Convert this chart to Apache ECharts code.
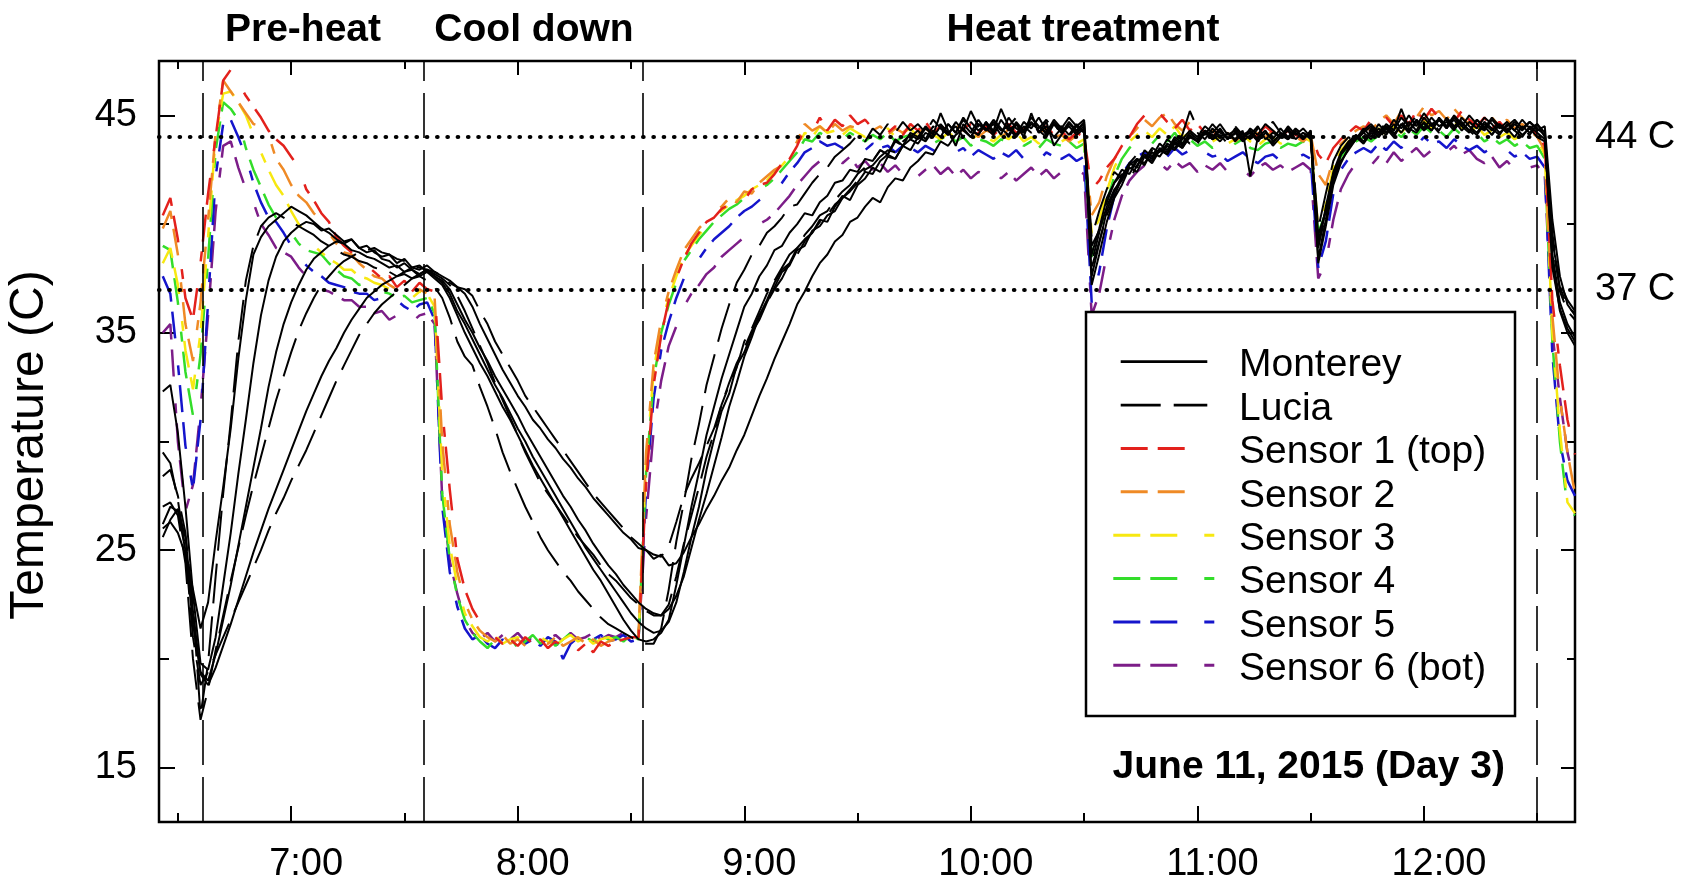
<!DOCTYPE html>
<html>
<head>
<meta charset="utf-8">
<title>Body and sensor temperatures, June 11, 2015</title>
<script src="https://cdn.jsdelivr.net/npm/echarts@6/dist/echarts.min.js"></script>
<style>
  html, body { margin: 0; padding: 0; background: #fff; }
  #chart { width: 1689px; height: 884px; }
</style>
</head>
<body>
<div id="chart"></div>
<script>
// Loggers sampled every 2 minutes; first reading at 6:26 (minutes after midnight).
const SAMPLE_START = 386;
const SAMPLE_STEP = 2;

// Phase boundaries (minutes after midnight) and reference temperatures.
const phaseBounds = [396.7, 455.1, 513.2, 750];
const phaseNames = ['Pre-heat', 'Cool down', 'Heat treatment'];
const thresholds = [44, 37];

// Axis ticks.
const hourTicks = [420, 480, 540, 600, 660, 720];
const halfHourTicks = [390, 450, 510, 570, 630, 690, 750];
const tempMajorTicks = [15, 25, 35, 45];
const tempMinorTicks = [20, 30, 40];

const legendNames = ['Monterey', 'Lucia', 'Sensor 1 (top)', 'Sensor 2', 'Sensor 3', 'Sensor 4', 'Sensor 5', 'Sensor 6 (bot)'];
const dateNote = 'June 11, 2015 (Day 3)';

// ---- Chamber sensors (deg C), one row = 20 minutes ----
const sensor1 = [
  40.4, 41.2, 39.3, 36.6, 35.6, 38.2, 41.4, 44.0, 46.6, 47.1, // 6:26
  46.5, 45.9, 45.4, 44.9, 44.3, 43.9, 43.6, 43.1, 42.6, 41.6, // 6:46
  41.1, 40.5, 40.1, 39.4, 39.0, 38.7, 38.3, 38.1, 37.8, 37.5, // 7:06
  37.6, 37.1, 37.4, 36.9, 37.3, 37.0, 36.9, 31.5, 27.8, 24.6, // 7:26
  23.2, 22.3, 21.7, 21.3, 21.0, 20.7, 20.9, 20.6, 21.0, 20.7, // 7:46
  20.9, 20.5, 20.8, 20.6, 20.9, 20.4, 20.7, 20.3, 20.8, 20.6, // 8:06
  20.8, 20.9, 21.0, 21.0, 28.0, 32.6, 34.9, 36.5, 37.5, 38.4, // 8:26
  39.1, 39.6, 40.1, 40.3, 40.7, 40.9, 41.2, 41.1, 41.6, 41.8, // 8:46
  41.9, 42.3, 42.8, 43.0, 43.6, 44.4, 44.2, 44.9, 44.3, 44.8, // 9:06
  44.5, 45.0, 44.6, 44.8, 44.4, 44.6, 44.2, 44.5, 44.1, 44.6, // 9:26
  44.3, 44.7, 44.2, 44.5, 44.3, 44.8, 44.4, 44.6, 44.2, 44.5, // 9:46
  44.1, 44.4, 44.6, 44.2, 44.4, 44.0, 44.3, 44.5, 44.1, 44.3, // 10:06
  43.9, 44.2, 44.0, 41.6, 42.0, 42.6, 43.0, 43.6, 44.0, 44.6, // 10:26
  45.0, 44.6, 45.1, 44.7, 44.4, 44.8, 44.3, 44.6, 44.2, 44.0, // 10:46
  44.4, 44.1, 43.9, 44.2, 43.8, 44.1, 44.5, 44.2, 44.0, 44.3, // 11:06
  44.1, 43.9, 44.2, 43.2, 42.8, 43.5, 43.9, 44.2, 44.5, 44.3, // 11:26
  44.8, 44.4, 44.9, 44.5, 45.0, 44.6, 45.2, 44.8, 45.3, 44.9, // 11:46
  45.1, 44.7, 45.2, 44.8, 44.5, 44.9, 44.4, 44.7, 44.3, 44.6, // 12:06
  44.2, 44.5, 44.1, 43.6, 36.5, 33.5, 31.0, 29.4              // 12:26
];
const sensor2 = [
  39.8, 40.6, 38.6, 35.4, 33.7, 36.4, 40.2, 44.2, 46.6, 46.1,
  45.6, 45.1, 44.6, 44.5, 44.1, 43.0, 42.5, 41.8, 41.3, 41.0,
  40.5, 40.1, 39.6, 39.1, 38.7, 38.6, 38.2, 37.9, 37.6, 37.5,
  37.2, 37.0, 37.1, 36.8, 37.0, 36.8, 36.6, 30.0, 26.2, 24.0,
  22.6, 21.8, 21.3, 21.0, 20.8, 21.1, 20.7, 20.9, 20.6, 21.0,
  20.8, 20.7, 21.0, 20.6, 20.8, 21.0, 20.7, 20.9, 20.6, 20.8,
  20.9, 21.0, 20.9, 21.2, 29.5, 33.6, 35.6, 36.9, 37.9, 38.8,
  39.3, 39.8, 40.2, 40.6, 40.8, 41.2, 41.0, 41.5, 41.4, 41.9,
  42.2, 42.5, 42.7, 43.2, 43.8, 44.6, 44.3, 44.5, 44.2, 44.6,
  44.3, 44.5, 44.4, 44.7, 44.3, 44.5, 44.1, 44.4, 44.2, 44.5,
  44.2, 44.4, 44.1, 44.5, 44.2, 44.6, 44.3, 44.4, 44.0, 44.3,
  44.2, 43.9, 44.4, 44.1, 44.3, 43.9, 44.2, 44.4, 44.0, 44.1,
  43.8, 44.1, 43.9, 40.4, 41.0, 42.2, 43.0, 43.5, 44.0, 44.4,
  44.8, 44.5, 44.9, 45.1, 44.6, 44.3, 44.7, 44.4, 44.1, 44.3,
  44.0, 44.2, 43.8, 44.1, 43.9, 44.2, 44.0, 44.3, 43.9, 44.1,
  44.0, 43.8, 44.1, 42.3, 41.8, 43.0, 43.7, 44.0, 44.3, 44.5,
  44.3, 44.7, 45.0, 44.6, 45.2, 44.7, 44.9, 45.4, 45.0, 45.2,
  44.8, 45.3, 44.9, 44.6, 45.0, 44.6, 44.9, 44.5, 44.8, 44.4,
  44.6, 44.3, 44.0, 43.4, 35.8, 32.0, 29.5, 27.6
];
const sensor3 = [
  38.2, 38.9, 37.2, 34.2, 32.4, 35.0, 39.4, 44.0, 46.0, 46.1,
  45.6, 45.0, 44.1, 43.3, 42.5, 41.8, 41.3, 40.6, 40.0, 39.5,
  39.0, 38.7, 38.4, 38.2, 37.9, 37.9, 37.6, 37.5, 37.3, 37.2,
  37.0, 36.9, 36.8, 36.6, 36.9, 36.8, 36.2, 28.5, 25.2, 23.4,
  22.1, 21.5, 21.0, 20.8, 21.1, 20.7, 20.9, 21.0, 20.7, 20.9,
  21.0, 20.8, 20.6, 20.9, 21.1, 20.8, 21.0, 20.7, 20.9, 21.0,
  20.8, 21.0, 21.1, 21.0, 29.0, 33.2, 35.4, 36.6, 37.6, 38.5,
  39.0, 39.5, 39.9, 40.4, 40.6, 40.9, 41.1, 41.3, 41.6, 41.8,
  42.0, 42.4, 42.7, 43.1, 43.5, 44.2, 44.0, 44.5, 44.2, 44.3,
  44.1, 44.4, 44.2, 44.0, 44.3, 44.1, 44.4, 44.0, 44.2, 44.4,
  44.0, 44.3, 44.1, 43.9, 44.2, 44.0, 44.3, 43.9, 44.1, 44.0,
  43.8, 44.1, 43.9, 44.2, 43.8, 44.0, 43.7, 44.1, 43.9, 43.8,
  44.0, 43.7, 43.9, 39.6, 40.2, 41.5, 42.6, 43.3, 43.8, 44.1,
  44.3, 44.0, 44.4, 44.1, 44.5, 44.0, 44.2, 43.9, 44.1, 43.8,
  44.0, 43.7, 43.9, 44.1, 43.8, 43.6, 43.9, 44.0, 43.7, 43.9,
  43.8, 44.0, 43.8, 39.8, 40.9, 42.6, 43.4, 43.8, 44.0, 44.2,
  44.0, 44.4, 44.1, 44.5, 44.2, 44.6, 44.3, 44.8, 44.4, 44.6,
  44.3, 44.7, 44.4, 44.2, 44.5, 44.1, 44.3, 44.0, 44.2, 43.9,
  44.1, 43.8, 43.9, 43.2, 35.0, 30.5, 27.2, 26.7
];
const sensor4 = [
  39.0, 38.8, 36.4, 33.2, 31.2, 34.0, 38.4, 43.4, 45.6, 45.3,
  44.8, 43.5, 42.5, 41.7, 40.9, 40.3, 40.0, 39.6, 39.1, 38.8,
  38.7, 38.6, 38.2, 37.9, 37.6, 37.5, 37.2, 37.3, 37.0, 36.9,
  36.8, 36.6, 36.7, 36.4, 36.5, 36.6, 35.9, 27.6, 24.6, 22.9,
  21.8, 21.2, 20.8, 20.5, 20.9, 20.6, 21.0, 20.5, 20.8, 21.1,
  20.7, 21.0, 20.6, 20.9, 21.2, 20.7, 21.0, 20.8, 21.1, 20.9,
  21.0, 20.8, 21.1, 20.9, 28.6, 32.8, 35.0, 36.3, 37.3, 38.3,
  38.8, 39.3, 39.7, 40.1, 40.4, 40.7, 40.9, 41.2, 41.4, 41.6,
  41.8, 42.1, 42.5, 42.9, 43.3, 43.9, 43.8, 44.2, 44.0, 44.1,
  43.9, 44.2, 44.0, 43.8, 44.1, 43.9, 44.2, 43.8, 44.0, 44.1,
  43.8, 44.0, 43.7, 43.9, 44.1, 43.8, 44.0, 43.6, 43.9, 43.8,
  43.6, 43.9, 43.7, 44.0, 43.6, 43.8, 43.5, 43.9, 43.7, 43.6,
  43.8, 43.5, 43.7, 38.5, 39.5, 41.0, 42.2, 43.0, 43.5, 43.8,
  44.0, 43.7, 44.1, 43.8, 44.2, 43.7, 43.9, 43.6, 43.8, 43.5,
  43.7, 43.4, 43.7, 43.9, 43.5, 43.4, 43.7, 43.8, 43.5, 43.7,
  43.6, 43.8, 43.6, 39.6, 40.5, 42.2, 43.1, 43.5, 43.8, 44.0,
  43.8, 44.1, 43.9, 44.3, 44.0, 44.4, 44.1, 44.5, 44.2, 44.3,
  44.0, 44.4, 44.1, 43.9, 44.2, 43.8, 44.0, 43.7, 43.9, 43.6,
  43.8, 43.5, 43.6, 43.0, 34.6, 30.0, 26.9, 26.6
];
const sensor5 = [
  37.6, 36.8, 33.6, 29.8, 27.8, 31.0, 36.4, 42.2, 44.6, 44.8,
  44.0, 43.1, 41.9, 41.0, 40.3, 40.1, 39.6, 39.0, 38.5, 38.1,
  37.8, 37.6, 37.3, 37.2, 37.1, 36.9, 36.8, 36.8, 36.5, 36.6,
  36.3, 36.5, 36.2, 36.0, 36.3, 36.4, 35.6, 27.0, 24.0, 22.4,
  21.4, 20.9, 21.1, 20.7, 20.5, 20.9, 20.6, 21.0, 20.7, 20.9,
  20.6, 21.0, 20.8, 20.0, 20.7, 21.0, 20.6, 20.9, 21.1, 20.8,
  20.9, 21.1, 20.8, 20.9, 27.8, 32.0, 34.2, 35.5, 36.6, 37.5,
  37.9, 38.4, 38.9, 39.3, 39.6, 39.9, 40.3, 40.6, 40.8, 41.1,
  41.3, 41.6, 41.9, 42.4, 42.8, 43.3, 43.5, 43.8, 43.6, 43.7,
  43.5, 43.8, 43.6, 43.4, 43.7, 43.5, 43.6, 43.3, 43.6, 43.5,
  43.3, 43.6, 43.4, 43.2, 43.5, 43.3, 43.5, 43.1, 43.4, 43.2,
  43.0, 43.3, 43.1, 43.4, 43.0, 43.2, 42.9, 43.3, 43.1, 43.0,
  43.2, 42.9, 43.1, 36.4, 37.8, 39.8, 41.3, 42.3, 42.8, 43.1,
  43.3, 43.0, 43.4, 43.1, 43.5, 43.2, 43.4, 43.0, 43.3, 43.1,
  43.2, 42.9, 43.1, 43.3, 43.0, 42.8, 43.1, 43.2, 42.9, 43.1,
  43.0, 43.2, 43.0, 38.0, 39.2, 41.4, 42.5, 43.0, 43.3, 43.5,
  43.3, 43.7, 43.4, 43.8, 43.5, 43.9, 43.6, 44.0, 43.7, 43.8,
  43.5, 43.9, 43.6, 43.4, 43.6, 43.3, 43.5, 43.2, 43.4, 43.1,
  43.3, 43.0, 43.1, 42.6, 34.0, 30.0, 28.2, 27.5
];
const sensor6 = [
  35.0, 35.4, 30.0, 26.8, 28.0, 31.5, 35.8, 40.6, 43.6, 43.8,
  42.6, 41.6, 41.0, 40.0, 39.5, 38.9, 38.7, 38.5, 38.0, 37.6,
  37.3, 37.0, 36.9, 36.7, 36.5, 36.5, 36.2, 36.2, 35.9, 36.0,
  35.6, 35.8, 35.4, 35.5, 35.8, 35.9, 35.4, 27.4, 24.5, 23.0,
  21.8, 21.2, 20.9, 21.2, 20.8, 21.1, 20.9, 21.2, 20.8, 21.0,
  21.2, 20.9, 21.1, 20.8, 21.2, 20.9, 21.0, 21.2, 20.9, 21.1,
  21.0, 21.2, 20.9, 21.0, 26.5, 30.5, 32.8, 34.4, 35.3, 36.2,
  36.8, 37.2, 37.7, 38.0, 38.5, 38.8, 39.1, 39.4, 39.7, 40.0,
  40.2, 40.5, 40.9, 41.3, 41.8, 42.2, 42.6, 42.9, 42.7, 43.0,
  42.8, 43.1, 42.6, 42.9, 42.5, 42.8, 42.4, 42.7, 42.3, 42.6,
  42.2, 42.5, 42.7, 42.3, 42.6, 42.2, 42.5, 42.1, 42.4, 42.2,
  42.5, 42.1, 42.4, 42.0, 42.3, 42.6, 42.2, 42.5, 42.1, 42.4,
  42.2, 42.5, 42.3, 35.8, 36.8, 38.6, 40.2, 41.3, 42.0, 42.4,
  42.7, 42.4, 42.8, 42.5, 42.9, 42.6, 42.8, 42.4, 42.7, 42.5,
  42.8, 42.4, 42.7, 42.5, 42.2, 42.6, 42.8, 42.5, 42.7, 42.4,
  42.6, 42.8, 42.5, 37.5, 38.2, 40.2, 41.6, 42.3, 42.8, 43.0,
  42.7, 43.1, 42.8, 43.3, 42.9, 43.2, 43.5, 43.1, 43.4, 43.0,
  43.3, 43.6, 43.2, 43.4, 43.0, 42.8, 43.1, 42.6, 42.9, 42.5,
  42.8, 42.6, 42.7, 42.2, 35.0, 32.0, 29.5, 28.0
];

// ---- Body temperatures: Monterey (solid) ----
const monterey1 = [
  26.0, 26.3, 25.8, 24.8, 23.2, 21.4, 22.6, 25.4, 27.9, 30.6,
  33.8, 36.5, 38.6, 39.4, 39.9, 40.2, 40.5, 40.8, 40.6, 40.4,
  40.1, 39.8, 39.6, 39.3, 39.1, 38.8, 38.7, 38.5, 38.4, 38.2,
  38.0, 38.1, 37.8, 37.9, 37.6, 37.8, 37.5, 37.2, 36.6, 35.8,
  35.0, 34.3, 33.6, 33.0, 32.3, 31.6, 31.0, 30.3, 29.6, 28.9,
  28.3, 27.7, 27.1, 26.5, 25.9, 25.3, 24.7, 24.1, 23.6, 23.0,
  22.4, 21.8, 21.3, 20.9, 20.8, 20.9, 21.2, 21.8, 23.4, 25.2,
  27.0, 28.6, 30.3, 31.6, 32.9, 34.0, 35.1, 36.2, 36.8, 37.6,
  38.1, 38.8, 39.0, 39.6, 40.0, 40.5, 40.4, 41.0, 41.3, 41.9,
  42.0, 42.5, 42.4, 43.0, 42.9, 43.4, 43.2, 43.9, 43.6, 44.2,
  44.0, 44.5, 44.1, 45.1, 44.3, 43.6, 44.6, 44.2, 44.8, 44.3,
  44.6, 44.1, 44.9, 44.4, 44.2, 44.7, 44.3, 44.0, 44.6, 44.2,
  44.5, 44.1, 44.4, 38.6, 39.8, 41.2, 41.9, 42.5, 42.3, 42.9,
  43.1, 42.8, 43.4, 43.2, 43.7, 43.5, 44.0, 43.8, 44.3, 44.0,
  44.4, 43.9, 44.2, 43.8, 44.1, 44.5, 43.9, 44.2, 44.0, 44.4,
  43.9, 44.2, 44.0, 38.9, 40.8, 42.4, 43.3, 43.8, 44.1, 43.8,
  44.3, 44.0, 44.5, 44.1, 44.6, 44.2, 44.8, 44.4, 44.9, 44.5,
  44.7, 44.3, 44.9, 44.5, 44.2, 44.7, 44.4, 44.1, 44.6, 44.3,
  44.0, 44.5, 44.2, 43.9, 38.6, 36.4, 35.4, 34.8
];
const monterey2 = [
  32.3, 32.6, 30.4, 27.0, 23.0, 19.8, 19.5, 21.0, 23.4, 25.8,
  28.5, 31.0, 33.6, 35.8, 37.4, 38.5, 39.2, 39.6, 39.9, 40.1,
  40.0, 39.7, 39.8, 39.5, 39.2, 39.3, 38.9, 38.7, 38.8, 38.4,
  38.3, 38.0, 38.2, 37.9, 37.7, 37.9, 37.6, 37.3, 36.8, 36.0,
  35.4, 34.7, 34.0, 33.3, 32.6, 32.0, 31.3, 30.6, 30.0, 29.3,
  28.7, 28.1, 27.5, 26.9, 26.3, 25.7, 25.1, 24.6, 24.1, 23.6,
  23.1, 22.6, 22.1, 21.7, 21.4, 21.2, 21.3, 21.7, 22.6, 24.0,
  25.6, 27.0, 28.7, 30.1, 31.4, 32.2, 33.5, 34.1, 35.0, 35.6,
  36.4, 37.1, 37.8, 38.1, 38.8, 39.0, 39.7, 39.9, 40.4, 40.6,
  41.2, 41.5, 41.9, 42.4, 42.3, 42.9, 43.2, 43.0, 43.6, 43.9,
  43.7, 44.2, 44.0, 44.5, 44.1, 44.7, 44.3, 44.0, 44.6, 44.4,
  44.1, 44.8, 44.3, 44.6, 44.0, 45.1, 44.2, 44.7, 43.6, 44.1,
  44.6, 44.3, 44.7, 37.6, 39.1, 40.6, 41.5, 42.2, 42.8, 42.6,
  43.4, 43.1, 43.7, 43.4, 44.0, 43.7, 44.2, 43.9, 44.3, 44.1,
  43.8, 44.2, 43.9, 44.3, 42.2, 44.0, 44.3, 43.8, 44.1, 43.9,
  44.3, 44.0, 44.2, 38.4, 40.2, 42.1, 43.2, 43.6, 44.0, 44.2,
  43.9, 44.4, 44.1, 44.6, 44.2, 44.7, 44.3, 44.9, 44.5, 44.8,
  44.5, 45.0, 44.6, 44.3, 44.8, 44.4, 44.9, 44.5, 44.2, 44.6,
  44.3, 44.7, 44.4, 44.1, 38.0, 36.1, 35.2, 34.6
];
const monterey3 = [
  26.2, 27.0, 26.8, 25.0, 21.6, 19.4, 19.0, 20.2, 21.8, 23.4,
  25.2, 27.0, 28.8, 30.6, 32.5, 34.1, 35.4, 36.4, 37.2, 37.9,
  38.4, 38.7, 39.0, 39.2, 39.1, 39.3, 38.9, 39.0, 38.7, 38.5,
  38.6, 38.2, 38.4, 38.0, 38.1, 37.8, 37.6, 37.4, 37.0, 36.3,
  35.6, 35.0, 34.3, 33.7, 33.0, 32.4, 31.8, 31.2, 30.5, 29.9,
  29.3, 28.7, 28.1, 27.5, 27.0, 26.4, 25.9, 25.3, 24.8, 24.3,
  23.9, 23.4, 23.0, 22.6, 22.3, 22.1, 22.0, 22.3, 22.9, 23.8,
  25.1, 26.4, 27.6, 28.9, 30.2, 31.6, 32.7, 33.9, 34.8, 35.8,
  36.5, 37.3, 37.9, 38.2, 38.9, 39.3, 39.6, 40.2, 40.1, 40.8,
  41.3, 41.1, 41.8, 42.1, 42.6, 42.4, 43.1, 43.0, 43.6, 43.4,
  44.0, 43.8, 44.3, 44.0, 44.6, 44.2, 44.9, 44.4, 44.1, 44.7,
  44.3, 45.3, 44.5, 44.1, 44.7, 44.4, 44.9, 44.3, 44.6, 44.2,
  44.7, 44.3, 44.6, 37.2, 38.6, 40.1, 41.2, 41.8, 42.6, 42.4,
  43.1, 42.9, 43.5, 43.2, 43.9, 43.6, 44.1, 43.8, 44.3, 43.9,
  44.3, 43.9, 44.4, 44.0, 44.2, 43.8, 44.2, 43.9, 44.4, 44.0,
  44.2, 43.9, 44.3, 38.2, 39.9, 41.8, 42.8, 43.5, 43.9, 44.4,
  44.0, 44.6, 44.2, 44.8, 44.4, 45.0, 44.5, 45.1, 44.6, 44.8,
  44.4, 44.9, 44.5, 45.0, 44.6, 44.3, 44.8, 44.4, 44.7, 44.3,
  44.8, 44.4, 44.6, 44.0, 38.4, 36.0, 35.0, 34.4
];
const monterey4 = [
  25.6, 26.4, 26.9, 25.6, 22.2, 19.3, 18.8, 19.6, 20.6, 21.6,
  22.7, 23.8, 24.9, 25.9, 26.9, 27.8, 28.7, 29.6, 30.5, 31.4,
  32.2, 33.0, 33.7, 34.3, 35.0, 35.6, 36.1, 36.6, 36.9, 37.2,
  37.4, 37.6, 37.8, 38.0, 37.9, 38.1, 37.8, 37.6, 37.4, 37.1,
  36.8, 36.2, 35.4, 34.7, 34.0, 33.3, 32.7, 32.1, 31.6, 31.0,
  30.6, 30.1, 29.7, 29.2, 28.8, 28.3, 27.9, 27.4, 27.0, 26.6,
  26.2, 25.8, 25.5, 25.1, 25.0, 24.6, 24.8, 24.3, 24.4, 24.9,
  25.6, 26.2, 26.9, 27.5, 28.2, 28.8, 29.6, 30.3, 31.2, 32.1,
  32.9, 33.8, 34.6, 35.4, 36.3, 36.9, 37.6, 38.2, 38.6, 39.2,
  39.5, 40.1, 40.3, 40.8, 41.2, 41.0, 41.7, 42.1, 42.0, 42.6,
  42.9, 43.3, 43.2, 43.8, 43.6, 44.1, 44.4, 44.0, 44.6, 44.3,
  44.8, 44.4, 44.1, 44.7, 44.3, 44.9, 44.5, 44.2, 44.8, 44.4,
  44.9, 44.5, 44.8, 39.0, 39.7, 40.8, 41.6, 42.0, 42.7, 43.0,
  42.8, 43.3, 43.1, 43.6, 43.4, 43.9, 44.3, 44.0, 44.5, 44.2,
  44.6, 44.1, 44.3, 43.9, 44.4, 44.1, 44.6, 44.3, 44.0, 44.5,
  44.1, 44.4, 44.0, 39.5, 40.6, 42.0, 42.9, 43.4, 43.9, 44.2,
  44.5, 44.1, 44.6, 44.3, 45.3, 44.4, 44.2, 44.7, 44.3, 44.9,
  44.5, 44.8, 44.3, 44.7, 44.4, 44.9, 44.6, 44.2, 44.5, 44.8,
  44.4, 44.7, 44.3, 44.5, 40.2, 37.6, 36.3, 35.8
];

// ---- Body temperatures: Lucia (dashed) ----
const lucia1 = [
  28.4, 28.7, 27.5, 25.8, 22.4, 17.4, 19.8, 23.8, 27.6, 30.9,
  34.6, 37.4, 39.0, 39.9, 40.3, 40.5, 40.3, 40.1, 39.9, 39.7,
  39.5, 39.2, 39.0, 38.8, 38.6, 38.5, 38.3, 38.2, 38.0, 37.9,
  37.8, 37.6, 37.7, 37.5, 37.6, 37.4, 37.1, 36.6, 35.7, 34.6,
  33.9, 33.5, 32.5, 31.6, 30.6, 29.5, 28.6, 27.8, 27.0, 26.3,
  25.6, 25.0, 24.5, 24.0, 23.6, 23.1, 22.7, 22.3, 21.9, 21.6,
  21.4, 21.2, 21.0, 20.8, 20.7, 20.7, 21.4, 23.2, 25.4, 27.2,
  29.2, 30.8, 32.6, 33.9, 35.2, 36.3, 37.3, 37.9, 38.6, 39.0,
  39.6, 39.9, 40.3, 40.8, 40.9, 41.4, 41.9, 42.3, 42.6, 43.1,
  43.4, 43.7, 44.1, 43.8, 44.4, 44.1, 44.6, 44.2, 44.7, 44.3,
  44.6, 44.2, 44.8, 44.4, 44.1, 44.7, 44.3, 45.2, 44.5, 44.2,
  44.7, 44.3, 44.5, 44.9, 44.2, 44.6, 44.4, 44.8, 44.3, 44.5,
  44.1, 44.6, 44.2, 39.4, 40.6, 41.6, 42.4, 42.1, 42.8, 43.2,
  43.0, 43.5, 43.3, 43.9, 43.6, 44.1, 45.2, 44.4, 44.1, 44.6,
  44.2, 44.0, 44.5, 44.1, 44.3, 43.9, 44.4, 44.7, 44.2, 44.0,
  44.4, 44.1, 44.3, 39.8, 41.4, 42.9, 43.6, 44.0, 43.7, 44.3,
  44.6, 44.2, 44.7, 44.3, 44.9, 44.5, 45.0, 44.6, 44.3, 44.8,
  44.4, 44.9, 44.5, 44.2, 44.8, 44.5, 44.1, 44.6, 44.3, 44.7,
  44.4, 44.1, 44.6, 44.2, 39.6, 36.9, 36.0, 35.6
];
const lucia2 = [
  27.0, 27.2, 26.6, 24.4, 20.0, 17.2, 18.6, 20.4, 22.0, 23.6,
  25.1, 26.6, 28.0, 29.3, 30.6, 31.9, 33.0, 34.1, 35.1, 35.9,
  36.6, 37.2, 37.6, 38.0, 38.3, 38.5, 38.7, 38.8, 38.9, 38.7,
  38.6, 38.4, 38.3, 38.1, 38.0, 37.9, 37.7, 37.5, 37.2, 36.7,
  36.0, 35.2, 34.4, 33.6, 32.7, 31.9, 31.1, 30.3, 29.5, 28.8,
  28.1, 27.6, 27.1, 26.6, 26.1, 25.6, 25.2, 24.8, 24.3, 23.9,
  23.6, 23.2, 22.8, 22.5, 22.2, 22.0, 22.0, 22.5, 23.8, 25.3,
  26.6, 27.9, 29.3, 30.4, 31.7, 32.6, 33.4, 34.6, 35.2, 36.0,
  36.8, 37.4, 38.0, 38.6, 38.9, 39.5, 39.9, 40.4, 40.6, 41.1,
  41.5, 41.8, 42.3, 42.6, 42.9, 43.4, 43.2, 43.8, 43.6, 44.0,
  44.3, 43.9, 44.5, 44.1, 44.6, 44.2, 44.8, 44.3, 44.1, 44.7,
  44.2, 44.5, 44.0, 44.6, 44.3, 44.8, 44.2, 44.5, 44.0, 44.4,
  44.0, 44.5, 44.2, 38.2, 39.6, 41.0, 41.9, 42.3, 42.0, 42.7,
  43.2, 43.0, 43.6, 43.3, 43.8, 43.5, 44.1, 43.7, 44.2, 43.9,
  44.1, 43.7, 44.2, 43.9, 44.3, 43.8, 44.1, 43.6, 44.0, 44.3,
  43.8, 44.2, 43.9, 39.2, 40.6, 42.3, 43.0, 43.6, 44.0, 43.7,
  44.2, 43.9, 44.4, 44.0, 44.6, 44.2, 44.7, 44.3, 44.6, 44.2,
  44.8, 44.4, 44.7, 44.3, 44.0, 44.5, 44.1, 44.6, 44.2, 44.5,
  44.1, 44.4, 44.0, 43.8, 39.0, 37.1, 36.2, 35.9
];
const lucia3 = [
  29.5, 29.0, 27.3, 25.0, 21.0, 18.8, 19.4, 20.2, 21.0, 21.8,
  22.6, 23.4, 24.2, 25.0, 25.9, 26.7, 27.4, 28.2, 28.9, 29.6,
  30.4, 31.2, 32.0, 32.8, 33.5, 34.2, 34.9, 35.4, 35.9, 36.3,
  36.6, 36.9, 37.2, 37.5, 37.7, 37.9, 37.8, 37.6, 37.3, 37.1,
  37.0, 36.7, 36.0, 35.4, 34.6, 34.0, 33.4, 32.8, 32.1, 31.6,
  31.1, 30.6, 30.1, 29.6, 29.1, 28.6, 28.1, 27.6, 27.2, 26.8,
  26.4, 26.0, 25.6, 25.3, 25.0, 24.8, 24.7, 25.2, 26.3, 27.5,
  28.3, 29.0, 29.8, 30.6, 31.7, 32.7, 33.6, 34.3, 35.1, 35.8,
  36.4, 37.0, 37.5, 38.2, 38.6, 39.2, 39.6, 40.1, 40.4, 40.9,
  41.2, 41.6, 42.0, 42.5, 42.7, 43.1, 43.4, 43.3, 43.8, 44.1,
  43.9, 44.4, 44.1, 44.6, 44.2, 44.5, 44.0, 44.7, 44.3, 44.6,
  44.2, 44.7, 44.4, 44.0, 44.5, 44.2, 44.6, 44.1, 44.7, 44.3,
  44.6, 44.2, 44.5, 38.0, 39.2, 40.4, 41.3, 42.1, 42.4, 43.0,
  42.7, 43.4, 43.2, 43.7, 43.5, 44.0, 43.7, 44.2, 43.9, 44.4,
  44.0, 44.3, 43.8, 44.2, 43.9, 44.4, 44.0, 43.7, 44.2, 43.9,
  44.3, 43.9, 44.2, 39.0, 40.4, 42.2, 43.2, 43.7, 44.1, 43.8,
  44.4, 44.0, 44.5, 44.2, 44.7, 44.3, 44.8, 44.4, 44.7, 44.3,
  44.9, 44.5, 44.8, 44.4, 44.1, 44.6, 44.3, 44.7, 44.4, 44.0,
  44.5, 44.2, 44.5, 44.3, 39.2, 37.3, 36.5, 36.0
];

const sensorValues = [sensor1, sensor2, sensor3, sensor4, sensor5, sensor6];
const montereyValues = [monterey1, monterey2, monterey3, monterey4];
const luciaValues = [lucia1, lucia2, lucia3];

// ---- Styling ----
const FONT = "'Liberation Sans', Arial, Helvetica, sans-serif";
const sensorColors = ['#e3211c', '#ef8a26', '#f7e811', '#33dd2a', '#1515cc', '#7c1d88'];
const SENSOR_DASH = [27, 10, 27, 27, 10, 10];
const LUCIA_DASH = [40, 13];
const PHASE_DASH = [45, 12];

const toPoints = vals => vals.map((v, i) => [SAMPLE_START + SAMPLE_STEP * i, v]);
const clock = v => Math.floor(v / 60) + ':' + String(v % 60).padStart(2, '0');

const chart = echarts.init(document.getElementById('chart'), null, { renderer: 'canvas' });

const series = [];

// Sensors drawn bottom to top (sensor 6 first), body temperatures over them.
for (let k = sensorValues.length - 1; k >= 0; k--) {
  series.push({
    type: 'line',
    name: legendNames[k + 2],
    data: toPoints(sensorValues[k]),
    symbol: 'none',
    silent: true,
    lineStyle: { color: sensorColors[k], width: 2.5, type: SENSOR_DASH },
    itemStyle: { color: sensorColors[k] }
  });
}
luciaValues.forEach(vals => series.push({
  type: 'line', name: 'Lucia', data: toPoints(vals), symbol: 'none', silent: true,
  lineStyle: { color: '#000', width: 2, type: LUCIA_DASH }, itemStyle: { color: '#000' }
}));
montereyValues.forEach(vals => series.push({
  type: 'line', name: 'Monterey', data: toPoints(vals), symbol: 'none', silent: true,
  lineStyle: { color: '#000', width: 2, type: 'solid' }, itemStyle: { color: '#000' }
}));

// Phase boundaries and reference temperatures.
series[0].markLine = {
  silent: true,
  symbol: 'none',
  label: { show: false },
  emphasis: { disabled: true },
  data: [
    ...phaseBounds.map(t => ({ xAxis: t, lineStyle: { color: '#000', width: 1.6, type: PHASE_DASH } })),
    ...thresholds.map(v => ({ yAxis: v, lineStyle: { color: '#000', width: 4.2, type: [0.5, 9.8], cap: 'round' } }))
  ]
};

const tickLine = { color: '#000', width: 2 };
const axisText = { color: '#000', fontFamily: FONT, fontSize: 38 };
const X_MIN = 385, X_MAX = 760, Y_MIN = 12.5, Y_MAX = 47.5;

function xAxisDef(position, ticks, len, labels) {
  return {
    type: 'value', min: X_MIN, max: X_MAX, position,
    axisLine: { show: false }, splitLine: { show: false },
    axisTick: { show: true, inside: true, length: len, lineStyle: tickLine, customValues: ticks },
    axisLabel: labels
      ? Object.assign({ show: true, customValues: ticks, formatter: clock, margin: 24, padding: [0, 0, 0, 30] }, axisText)
      : { show: false }
  };
}
function yAxisDef(position, ticks, len, labels) {
  return {
    type: 'value', min: Y_MIN, max: Y_MAX, position,
    axisLine: { show: false }, splitLine: { show: false },
    axisTick: { show: true, inside: true, length: len, lineStyle: tickLine, customValues: ticks },
    axisLabel: labels ? Object.assign({ show: true }, labels, axisText) : { show: false }
  };
}

// Headings, axis title, date note and key.
const graphics = [];
const phaseLabelX = [303, 534, 1083];
phaseNames.forEach((name, i) => graphics.push({
  type: 'text', x: phaseLabelX[i], y: 30,
  style: { text: name, font: 'bold 39px ' + FONT, fill: '#000', textAlign: 'center', textVerticalAlign: 'middle' }
}));
graphics.push({
  type: 'text', x: 30, y: 445, rotation: Math.PI / 2,
  style: { text: 'Temperature (C)', font: '48px ' + FONT, fill: '#000', textAlign: 'center', textVerticalAlign: 'middle' }
});
graphics.push({
  type: 'text', x: 1505, y: 767,
  style: { text: dateNote, font: 'bold 39px ' + FONT, fill: '#000', textAlign: 'right', textVerticalAlign: 'middle' }
});

// Key box
graphics.push({
  type: 'rect', z: 100,
  shape: { x: 1086, y: 312, width: 429, height: 404 },
  style: { fill: '#fff', stroke: '#000', lineWidth: 2.5 }
});
const keyStyles = [
  { stroke: '#000', dash: null, x1: 1120.7, x2: 1207.3, w: 2.7 },
  { stroke: '#000', dash: LUCIA_DASH, x1: 1120.7, x2: 1207.3, w: 2.7 },
  { stroke: sensorColors[0], dash: SENSOR_DASH, x1: 1120.7, x2: 1207.3, w: 3 },
  { stroke: sensorColors[1], dash: SENSOR_DASH, x1: 1120.7, x2: 1207.3, w: 3 },
  { stroke: sensorColors[2], dash: SENSOR_DASH, x1: 1113.3, x2: 1214.3, w: 3 },
  { stroke: sensorColors[3], dash: SENSOR_DASH, x1: 1113.3, x2: 1214.3, w: 3 },
  { stroke: sensorColors[4], dash: SENSOR_DASH, x1: 1113.3, x2: 1214.3, w: 3 },
  { stroke: sensorColors[5], dash: SENSOR_DASH, x1: 1113.3, x2: 1214.3, w: 3 }
];
const KEY_ROW0 = 361.7, KEY_STEP = 43.37;
legendNames.forEach((name, i) => {
  const y = KEY_ROW0 + KEY_STEP * i;
  const s = keyStyles[i];
  graphics.push({
    type: 'line', z: 101,
    shape: { x1: s.x1, y1: y, x2: s.x2, y2: y },
    style: { stroke: s.stroke, lineWidth: s.w, lineDash: s.dash || null }
  });
  graphics.push({
    type: 'text', z: 101, x: 1239, y: y + 4,
    style: { text: name, font: '39px ' + FONT, fill: '#000', textAlign: 'left', textVerticalAlign: 'middle' }
  });
});

chart.setOption({
  animation: false,
  backgroundColor: '#fff',
  textStyle: { fontFamily: FONT },
  grid: { left: 159, top: 61, width: 1416, height: 765, show: true, borderColor: '#000', borderWidth: 2.5, backgroundColor: 'transparent' },
  xAxis: [
    xAxisDef('bottom', hourTicks, 16, true),
    xAxisDef('bottom', halfHourTicks, 9, false),
    xAxisDef('top', hourTicks, 14, false),
    xAxisDef('top', halfHourTicks, 8, false)
  ],
  yAxis: [
    yAxisDef('left', tempMajorTicks, 16, { customValues: tempMajorTicks, margin: 22 }),
    yAxisDef('left', tempMinorTicks, 10, null),
    yAxisDef('right', tempMajorTicks, 14, { customValues: thresholds, margin: 20, formatter: v => v + ' C' }),
    yAxisDef('right', tempMinorTicks, 8, null)
  ],
  series,
  graphic: { elements: graphics }
});
</script>
</body>
</html>
